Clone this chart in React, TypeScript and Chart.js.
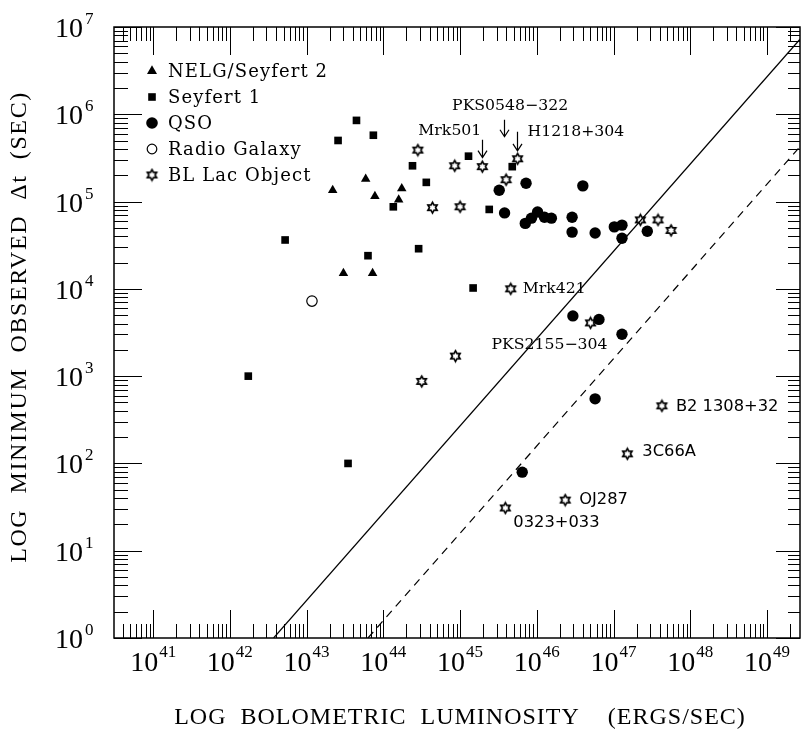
import { useEffect, useRef } from 'react';
import { Chart, registerables } from 'chart.js';
Chart.register(...registerables);

// ---- data: log10 values ----
const xLogMin = 40.49;
const xLogMax = 49.43;
const yLogMin = 0;
const yLogMax = 7;

const nelgLogL = [43.34, 43.77, 43.89, 44.24, 44.2, 43.48, 43.86];
const nelgLogT = [5.13, 5.26, 5.06, 5.15, 5.02, 4.18, 4.18];

const sy1LogL = [42.24, 42.72, 43.8, 43.54, 43.65, 43.41, 43.87, 44.38, 44.56, 44.13, 44.46, 45.11, 45.38, 45.68, 45.17];
const sy1LogT = [3.0, 4.56, 4.38, 2.0, 5.93, 5.7, 5.76, 5.41, 5.22, 4.94, 4.46, 5.52, 4.91, 5.4, 4.01];

const qsoLogL = [45.86, 45.51, 46.6, 45.58, 45.85, 45.93, 46.01, 46.1, 46.19, 46.46, 46.46, 46.76, 47.01, 47.11, 47.11, 47.44, 46.47, 46.81, 47.11, 46.76, 45.81];
const qsoLogT = [5.21, 5.13, 5.18, 4.87, 4.75, 4.81, 4.88, 4.82, 4.81, 4.82, 4.65, 4.64, 4.71, 4.73, 4.58, 4.66, 3.69, 3.65, 3.48, 2.74, 1.9];

const rgLogL = [43.07];
const rgLogT = [3.86];

const blLogL = [44.93, 45.29, 45.75, 45.6, 45.0, 47.35, 47.58, 47.75, 44.45, 44.64, 45.66, 46.7, 44.94, 47.63, 44.5, 47.18, 46.37, 45.59];
const blLogT = [5.41, 5.4, 5.49, 5.25, 4.94, 4.79, 4.79, 4.67, 5.59, 4.93, 4.0, 3.61, 3.23, 2.66, 2.94, 2.11, 1.58, 1.49];

const solidLogL = [42.57, 49.43];
const solidLogT = [0, 6.86];
const dashedLogL = [43.8, 49.43];
const dashedLogT = [0, 5.63];

const legendLabels = ['NELG/Seyfert 2', 'Seyfert 1', 'QSO', 'Radio Galaxy', 'BL Lac Object'];

const xTickDecades = [41, 42, 43, 44, 45, 46, 47, 48, 49];
const yTickDecades = [0, 1, 2, 3, 4, 5, 6, 7];

const xTitle = 'LOG  BOLOMETRIC  LUMINOSITY    (ERGS/SEC)';
const yTitle = 'LOG  MINIMUM  OBSERVED  Δt  (SEC)';

// annotated BL Lac objects (index into blLogL/blLogT)
const annText = ['Mrk501', 'PKS0548−322', 'H1218+304', 'Mrk421', 'PKS2155−304', 'B2 1308+32', '3C66A', 'OJ287', '0323+033'];
const annStar = [1, 3, 2, 10, 11, 13, 15, 16, 17];

// ---- styling / layout (pixel offsets) ----
const annStyle = [
  { dx: -1, dy: -36, align: 'right', sans: false, arrow: [0, -27, -9] },
  { dx: 4, dy: -74, align: 'center', sans: false, arrow: [-2, -60, -43] },
  { dx: 10, dy: -27, align: 'left', sans: false, arrow: [-1, -27, -8] },
  { dx: 12, dy: 0, align: 'left', sans: false, arrow: null },
  { dx: -41, dy: 22, align: 'center', sans: false, arrow: null },
  { dx: 14, dy: 1, align: 'left', sans: true, arrow: null },
  { dx: 15, dy: -2, align: 'left', sans: true, arrow: null },
  { dx: 14, dy: 0, align: 'left', sans: true, arrow: null },
  { dx: 8, dy: 15, align: 'left', sans: true, arrow: null },
];

const p10 = (v: number) => Math.pow(10, v);
const pts = (lx: number[], ly: number[]) => lx.map((v, i) => ({ x: p10(v), y: p10(ly[i]) }));

function makeStar(r: number) {
  const s = Math.ceil(r * 2 + 4);
  const c = document.createElement('canvas');
  c.width = s;
  c.height = s;
  const g = c.getContext('2d')!;
  g.translate(s / 2, s / 2);
  g.beginPath();
  for (let i = 0; i < 12; i++) {
    const ang = -Math.PI / 2 + (i * Math.PI) / 6;
    const rr = i % 2 === 0 ? r : r / Math.sqrt(3);
    g.lineTo(rr * Math.cos(ang), rr * Math.sin(ang));
  }
  g.closePath();
  g.fillStyle = '#fff';
  g.fill();
  g.lineWidth = 1.7;
  g.strokeStyle = '#000';
  g.stroke();
  return c;
}

export default function App() {
  const ref = useRef<HTMLCanvasElement>(null);
  useEffect(() => {
    document.body.style.margin = '0';
    const star = makeStar(5.3);

    const framePlugin = {
      id: 'frameTicks',
      beforeDatasetsDraw(chart: any) {
        const { ctx, chartArea: a, scales } = chart;
        const x = scales.x;
        const y = scales.y;
        ctx.save();
        ctx.strokeStyle = '#000';
        ctx.lineWidth = 1;
        const line = (x1: number, y1: number, x2: number, y2: number) => {
          ctx.beginPath();
          ctx.moveTo(x1, y1);
          ctx.lineTo(x2, y2);
          ctx.stroke();
        };
        for (let d = Math.floor(xLogMin); d <= Math.ceil(xLogMax); d++) {
          for (let m = 1; m <= 9; m++) {
            const lv = d + Math.log10(m);
            if (lv < xLogMin || lv > xLogMax) continue;
            const px = Math.round(x.getPixelForValue(p10(lv))) + 0.5;
            const len = m === 1 ? 28 : 14;
            line(px, a.bottom, px, a.bottom - len);
            line(px, a.top, px, a.top + len);
          }
        }
        for (let d = Math.floor(yLogMin); d <= Math.ceil(yLogMax); d++) {
          for (let m = 1; m <= 9; m++) {
            const lv = d + Math.log10(m);
            if (lv < yLogMin || lv > yLogMax) continue;
            const py = Math.round(y.getPixelForValue(p10(lv))) + 0.5;
            const len = m === 1 ? 28 : 14;
            line(a.left, py, a.left + len, py);
            line(a.right, py, a.right - (m === 1 ? 24 : 12), py);
          }
        }
        ctx.lineWidth = 1.5;
        ctx.strokeRect(a.left, a.top, a.right - a.left, a.bottom - a.top);
        ctx.restore();
      },
      afterDatasetsDraw(chart: any) {
        const { ctx, scales } = chart;
        const x = scales.x;
        const y = scales.y;
        ctx.save();
        ctx.fillStyle = '#000';
        ctx.strokeStyle = '#000';
        const bigFont = "28px 'Liberation Serif'";
        const supFont = "17px 'Liberation Serif'";
        // x tick labels
        ctx.textBaseline = 'alphabetic';
        xTickDecades.forEach((d) => {
          const px = x.getPixelForValue(p10(d));
          ctx.font = bigFont;
          const w1 = ctx.measureText('10').width;
          ctx.font = supFont;
          const w2 = ctx.measureText(String(d)).width;
          const start = px - (w1 + 1 + w2) / 2;
          ctx.textAlign = 'left';
          ctx.font = bigFont;
          ctx.fillText('10', start, 671);
          ctx.font = supFont;
          ctx.fillText(String(d), start + w1 + 1, 657);
        });
        // y tick labels
        yTickDecades.forEach((d) => {
          const py = y.getPixelForValue(p10(d));
          ctx.textAlign = 'right';
          ctx.font = bigFont;
          ctx.fillText('10', 83, py + 10);
          ctx.textAlign = 'left';
          ctx.font = supFont;
          ctx.fillText(String(d), 85, py - 3);
        });
        // axis titles
        ctx.font = "24px 'Liberation Serif'";
        ctx.textAlign = 'center';
        ctx.textBaseline = 'middle';
        ctx.letterSpacing = '1px';
        ctx.fillText(xTitle, 460, 718);
        ctx.save();
        ctx.translate(20, 327);
        ctx.rotate(-Math.PI / 2);
        ctx.letterSpacing = '1.6px';
        ctx.fillText(yTitle, 0, 0);
        ctx.restore();
        ctx.letterSpacing = '0px';

        // legend
        const lx = 152;
        const ly0 = 71;
        const step = 26;
        ctx.font = "18px 'DejaVu Serif'";
        ctx.textAlign = 'left';
        ctx.textBaseline = 'middle';
        legendLabels.forEach((t, i) => {
          const cy = ly0 + i * step;
          ctx.fillStyle = '#000';
          ctx.beginPath();
          if (i === 0) {
            const r = 5.8;
            ctx.moveTo(lx, cy - r);
            ctx.lineTo(lx + r * 0.866, cy + r / 2);
            ctx.lineTo(lx - r * 0.866, cy + r / 2);
            ctx.closePath();
            ctx.fill();
          } else if (i === 1) {
            ctx.fillRect(lx - 3.8, cy - 3.8, 7.6, 7.6);
          } else if (i === 2) {
            ctx.arc(lx, cy, 5.8, 0, Math.PI * 2);
            ctx.fill();
          } else if (i === 3) {
            ctx.lineWidth = 1.2;
            ctx.arc(lx, cy, 4.8, 0, Math.PI * 2);
            ctx.stroke();
          } else {
            ctx.drawImage(star, lx - star.width / 2, cy - star.height / 2);
          }
          ctx.letterSpacing = '1.1px';
          ctx.fillText(t, 168, cy + 1);
          ctx.letterSpacing = '0px';
        });

        // annotations
        annText.forEach((t, i) => {
          const s = annStyle[i];
          const k = annStar[i];
          const sx = x.getPixelForValue(p10(blLogL[k]));
          const sy = y.getPixelForValue(p10(blLogT[k]));
          ctx.font = s.sans ? "16.3px 'DejaVu Sans'" : "15.7px 'DejaVu Serif'";
          ctx.textAlign = s.align as CanvasTextAlign;
          ctx.textBaseline = 'middle';
          ctx.fillText(t, sx + s.dx, sy + s.dy);
          if (s.arrow) {
            const ax = Math.round(sx + s.arrow[0]) + 0.5;
            const y1 = sy + s.arrow[1];
            const y2 = sy + s.arrow[2];
            ctx.lineWidth = 1.2;
            ctx.beginPath();
            ctx.moveTo(ax, y1);
            ctx.lineTo(ax, y2);
            ctx.moveTo(ax - 4.5, y2 - 7);
            ctx.lineTo(ax, y2);
            ctx.lineTo(ax + 4.5, y2 - 7);
            ctx.stroke();
          }
        });
        ctx.restore();
      },
    };

    const chart = new Chart(ref.current!, {
      type: 'scatter',
      data: {
        datasets: [
          {
            label: 'solid',
            data: pts(solidLogL, solidLogT),
            showLine: true,
            borderColor: '#000',
            borderWidth: 1.2,
            pointRadius: 0,
          },
          {
            label: 'dashed',
            data: pts(dashedLogL, dashedLogT),
            showLine: true,
            borderColor: '#000',
            borderWidth: 1.2,
            borderDash: [8, 6],
            pointRadius: 0,
          },
          {
            label: legendLabels[0],
            data: pts(nelgLogL, nelgLogT),
            pointStyle: 'triangle',
            pointRadius: 5.5,
            backgroundColor: '#000',
            borderColor: '#000',
            borderWidth: 0,
          },
          {
            label: legendLabels[1],
            data: pts(sy1LogL, sy1LogT),
            pointStyle: 'rect',
            pointRadius: 5.4,
            backgroundColor: '#000',
            borderColor: '#000',
            borderWidth: 0,
          },
          {
            label: legendLabels[2],
            data: pts(qsoLogL, qsoLogT),
            pointStyle: 'circle',
            pointRadius: 5.7,
            backgroundColor: '#000',
            borderColor: '#000',
            borderWidth: 0,
          },
          {
            label: legendLabels[3],
            data: pts(rgLogL, rgLogT),
            pointStyle: 'circle',
            pointRadius: 5.2,
            backgroundColor: '#fff',
            borderColor: '#000',
            borderWidth: 1.2,
          },
          {
            label: legendLabels[4],
            data: pts(blLogL, blLogT),
            pointStyle: star,
            pointRadius: 5,
          },
        ],
      },
      options: {
        responsive: false,
        animation: false,
        events: [],
        layout: { autoPadding: false, padding: { left: 114, top: 27, right: 2, bottom: 102 } },
        plugins: { legend: { display: false }, tooltip: { enabled: false } },
        scales: {
          x: { type: 'logarithmic', min: p10(xLogMin), max: p10(xLogMax), display: false },
          y: { type: 'logarithmic', min: p10(yLogMin), max: p10(yLogMax), display: false },
        },
      },
      plugins: [framePlugin],
    } as any);
    return () => chart.destroy();
  }, []);
  return <canvas ref={ref} width={802} height={740} style={{ display: 'block', width: 802, height: 740 }} />;
}
